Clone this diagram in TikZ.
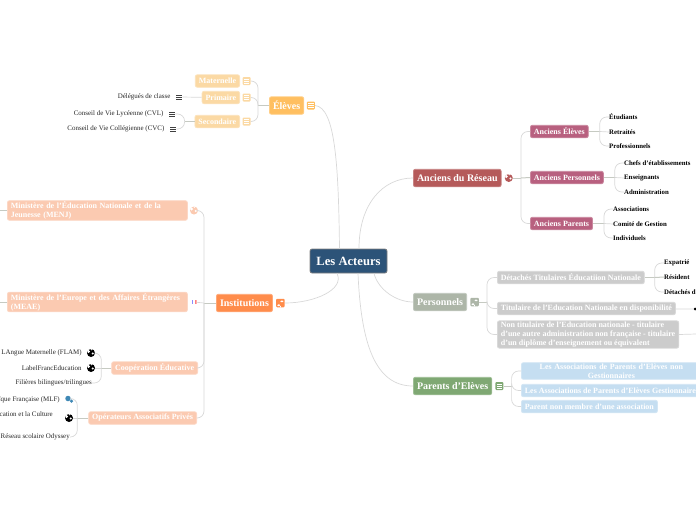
\documentclass[tikz,border=0pt]{standalone}
\usepackage{fontspec}
\setmainfont{Liberation Serif}
\usetikzlibrary{positioning}
\definecolor{rootblue}{HTML}{2C5378}
\definecolor{reseau}{HTML}{B55A5A}
\definecolor{reseaulight}{HTML}{B8607F}
\definecolor{perso}{HTML}{ADB6A8}
\definecolor{persolight}{HTML}{CCCCCC}
\definecolor{parents}{HTML}{7FA873}
\definecolor{parentslight}{HTML}{C5DEF1}
\definecolor{eleves}{HTML}{FFBF60}
\definecolor{eleveslight}{HTML}{FBD9A4}
\definecolor{instit}{HTML}{FF8C4B}
\definecolor{institlight}{HTML}{FBCAB1}
\definecolor{linkgray}{HTML}{D8D8D8}
\definecolor{stubgray}{HTML}{C6CAC2}
\definecolor{cogblue}{HTML}{3F88B5}
\begin{document}
\begin{tikzpicture}[
  x=1pt, y=-1pt,
  box/.style={fill=#1, draw=#1!75!white, line width=.8pt, rounded corners=2pt, text=white, align=left, inner xsep=3.5pt, inner ysep=1pt},
  main/.style={box=#1, font=\fontsize{10}{11}\selectfont\bfseries, minimum height=17.5pt, inner xsep=3.6pt},
  sub/.style={box=#1, font=\fontsize{8}{9}\selectfont\bfseries, minimum height=12.5pt},
  leaf/.style={font=\fontsize{6.8}{8}\selectfont\bfseries, inner sep=0pt},
  leafl/.style={font=\fontsize{6.95}{8}\selectfont, text=black!85, inner sep=0pt},
  link/.style={draw=linkgray, line width=.7pt},
  fork/.style={link, rounded corners=7pt},
  stub/.style={draw=stubgray, line width=1pt},
  menuicon/.style={fill=#1, rounded corners=1pt, minimum size=8pt, inner sep=0pt,
    path picture={\foreach \dy in {-2,0,2} \draw[white, line width=.7pt] ([xshift=-2.6pt, yshift=\dy pt]path picture bounding box.center) -- ++(5.2,0);}},
  listicon/.style={minimum width=6.5pt, minimum height=7pt, inner sep=0pt,
    path picture={\foreach \dy in {-2,0,2} \draw[black!75, line width=.6pt] ([xshift=-2.8pt, yshift=\dy pt]path picture bounding box.center) -- ++(5.6,0);}},
  globeicon/.style 2 args={circle, fill=#1, minimum size=8pt, inner sep=0pt,
    path picture={\fill[#2] ([xshift=-2.5pt, yshift=1.5pt]path picture bounding box.center) circle (1.6pt);
      \fill[#2] ([xshift=1.8pt, yshift=-.5pt]path picture bounding box.center) circle (1.1pt);
      \fill[#2] ([xshift=.5pt, yshift=3.6pt]path picture bounding box.center) circle (1pt);}},
  posticon/.style={fill=#1, rounded corners=1pt, minimum size=8.5pt, inner sep=0pt,
    path picture={\draw[white, line width=.9pt] ([yshift=-3.2pt]path picture bounding box.center) -- ++(0,6.8);
      \fill[white] ([yshift=2.4pt]path picture bounding box.center) -- ++(3,0) -- ++(0,1.6) -- ++(-3,0) -- cycle;
      \fill[white] ([yshift=-1.4pt]path picture bounding box.center) -- ++(-3.2,0) -- ++(0,1.6) -- ++(3.2,0) -- cycle;}},
  flagicon/.style={minimum width=5pt, minimum height=4pt, inner sep=0pt,
    path picture={\fill[blue!45] (path picture bounding box.south west) rectangle ++(1.7,-4);
      \fill[red!50] (path picture bounding box.north east) rectangle ++(-1.7,4);}},
  cogicon/.style={circle, fill=cogblue, inner sep=0pt}
]
\useasboundingbox (0,0) rectangle (696,520);

\node[fill=rootblue, draw=black!50, line width=.7pt, rounded corners=2pt, text=white, font=\fontsize{12.6}{14}\selectfont\bfseries, minimum width=77pt, minimum height=24pt, inner sep=1pt] (root) at (348.5,261) {Les Acteurs};

\node[main=reseau, anchor=west] (reseaum) at (413,178) {Anciens du Réseau};
\node[globeicon={reseau}{white}, right=3pt of reseaum] (icReseau) {};
\node[sub=reseaulight, anchor=west] (ancEl) at (530,131.5) {Anciens Élèves};
\node[sub=reseaulight, anchor=west] (ancPe) at (530,177.5) {Anciens Personnels};
\node[sub=reseaulight, anchor=west] (ancPa) at (530,223.5) {Anciens Parents};
\node[leaf, anchor=west] (etu) at (609,117) {Étudiants};
\node[leaf, anchor=west] (ret) at (609,132) {Retraités};
\node[leaf, anchor=west] (pro) at (609,146) {Professionnels};
\node[leaf, anchor=west] (chefs) at (624,163) {Chefs d'établissements};
\node[leaf, anchor=west] (ens) at (624,178) {Enseignants};
\node[leaf, anchor=west] (adm) at (624,192) {Administration};
\node[leaf, anchor=west] (asso) at (613,209) {Associations};
\node[leaf, anchor=west] (comite) at (613,224) {Comité de Gestion};
\node[leaf, anchor=west] (indiv) at (613,238) {Individuels};

\node[main=perso, anchor=west] (perso) at (413,302) {Personnels};
\node[posticon=perso, right=3pt of perso] (icPerso) {};
\node[sub=persolight, anchor=west] (detach) at (497,277.5) {Détachés Titulaires Éducatiion Nationale};
\node[sub=persolight, anchor=west] (titul) at (497,308.5) {Titulaire de l'Education Nationale en disponibilité};
\node[sub=persolight, anchor=west] (nontit) at (497,334.5) {Non titulaire de l'Education nationale - titulaire\\d'une autre administration non française - titulaire\\d'un diplôme d'enseignement ou équivalent};
\node[leaf, anchor=west] (expat) at (664,263) {Expatrié};
\node[leaf, anchor=west] (resid) at (664,277) {Résident};
\node[leaf, anchor=west] (detd) at (664,292) {Détachés d};
\node[circle, fill=black, minimum size=3pt, inner sep=0pt] (dotTit) at (695,309) {};
\coordinate (offNon) at (696,334);

\node[main=parents, anchor=west] (parent) at (413,386) {Parents d'Elèves};
\node[menuicon=parents, right=3pt of parent] (icParent) {};
\node[sub=parentslight, anchor=west, align=center, text width=173pt] (apeNon) at (521,371) {Les Associations de Parents d'Elèves non\\Gestionnaires};
\node[sub=parentslight, anchor=west] (apeGes) at (521,390.5) {Les Associations de Parents d'Elèves Gestionnaires};
\node[sub=parentslight, anchor=west] (apeMem) at (521,406.5) {Parent non membre d'une association};

\node[main=eleves, anchor=west] (eleve) at (269,105.5) {Élèves};
\node[menuicon=eleves, right=2.5pt of eleve] (icEleve) {};
\node[sub=eleveslight, anchor=east] (mater) at (240,81) {Maternelle};
\node[sub=eleveslight, anchor=east] (prim) at (240,97.5) {Primaire};
\node[sub=eleveslight, anchor=east] (second) at (240,121.5) {Secondaire};
\node[menuicon=eleveslight, right=2.5pt of mater] (icMater) {};
\node[menuicon=eleveslight, right=2.5pt of prim] (icPrim) {};
\node[menuicon=eleveslight, right=2.5pt of second] (icSecond) {};
\node[listicon] (icDel) at (179,97) {};
\node[listicon] (icCvl) at (172,114) {};
\node[listicon] (icCvc) at (173,129) {};
\node[leafl, left=5pt of icDel] (deleg) {Délégués de classe};
\node[leafl, left=5pt of icCvl] (cvl) {Conseil de Vie Lycéenne (CVL)};
\node[leafl, left=5pt of icCvc] (cvc) {Conseil de Vie Collégienne (CVC)};

\node[main=instit, anchor=west] (inst) at (216,303) {Institutions};
\node[posticon=instit, right=3pt of inst] (icInst) {};
\node[sub=institlight, anchor=west, text width=173pt] (menj) at (7,210.5) {Ministère de l'Éducation Nationale et de la\\Jeunesse (MENJ)};
\node[sub=institlight, anchor=west, text width=173pt] (meae) at (7,302) {Ministère de l'Europe et des Affaires Étrangères\\(MEAE)};
\node[globeicon={institlight}{white}, right=2pt of menj] (icMenj) {};
\node[flagicon, right=3.5pt of meae] (icMeae) {};
\node[sub=institlight, anchor=east] (coop) at (198,368) {Coopération Éducative};
\node[sub=institlight, anchor=east] (oper) at (197,418) {Opérateurs Associatifs Privés};
\node[globeicon={black}{white}] (icFlam) at (91,353) {};
\node[globeicon={black}{white}] (icLabel) at (91,368) {};
\node[globeicon={black}{white}] (icCult) at (69,418) {};
\node[cogicon, minimum size=5.5pt] (icCog) at (68,398.5) {};
\node[cogicon, minimum size=3.5pt] (icCogb) at (71.5,401) {};
\node[leafl, left=5pt of icFlam] (flam) {LAngue Maternelle (FLAM)};
\node[leafl, left=5pt of icLabel] (label) {LabelFrancEducation};
\node[leafl, anchor=east] (filie) at (92,383) {Filières bilingues/trilingues};
\node[leafl, anchor=east] (mlf) at (60,400) {ïque Française (MLF)};
\node[leafl, anchor=east] (cult) at (53,414) {cation et la Culture};
\node[leafl, anchor=east] (odys) at (70,437) {Réseau scolaire Odyssey};
\coordinate (offMenj) at (0,210.5);
\coordinate (offMeae) at (0,302);

\coordinate[right=8pt of icReseau] (hubReseau);
\coordinate[right=8pt of icPerso] (hubPerso);
\coordinate[right=8pt of icParent] (hubParent);
\coordinate[left=11pt of eleve] (hubEleve);
\coordinate[left=12pt of inst] (hubInst);
\coordinate[right=11pt of ancEl] (hubAncEl);
\coordinate[right=11pt of ancPe] (hubAncPe);
\coordinate[right=11pt of ancPa] (hubAncPa);
\coordinate[right=10pt of detach] (hubDetach);
\coordinate[left=10pt of second] (hubSecond);
\coordinate[left=10pt of coop] (hubCoop);
\coordinate[left=11pt of oper] (hubOper);

\draw[link] (icEleve.east) .. controls +(20,2) and +(-1,-85) .. ([xshift=-9pt]root.north);
\draw[link] (icInst.east) .. controls +(30,0) and +(8,16) .. ([xshift=-11.5pt]root.south);
\draw[link] ([xshift=10.5pt]root.north) .. controls +(0,-45) and +(-30,0) .. (reseaum.west);
\draw[link] ([xshift=25.5pt]root.south) .. controls +(4,16) and +(-17,0) .. (perso.west);
\draw[link] ([xshift=9.5pt]root.south) .. controls +(3,70) and +(-38,0) .. (parent.west);

\draw[stub] (icReseau) -- (hubReseau);
\draw[fork] (hubReseau) |- (ancEl.west);
\draw[stub] (hubReseau) -- (ancPe.west);
\draw[fork] (hubReseau) |- (ancPa.west);
\draw[stub] (ancEl) -- (hubAncEl);
\draw[fork] (hubAncEl) |- (etu.west);
\draw[link] (hubAncEl) -- (ret.west);
\draw[fork] (hubAncEl) |- (pro.west);
\draw[stub] (ancPe) -- (hubAncPe);
\draw[fork] (hubAncPe) |- (chefs.west);
\draw[link] (hubAncPe) -- (ens.west);
\draw[fork] (hubAncPe) |- (adm.west);
\draw[stub] (ancPa) -- (hubAncPa);
\draw[fork] (hubAncPa) |- (asso.west);
\draw[link] (hubAncPa) -- (comite.west);
\draw[fork] (hubAncPa) |- (indiv.west);

\draw[stub] (icPerso) -- (hubPerso);
\draw[fork] (hubPerso) |- (detach.west);
\draw[fork] (hubPerso) |- (titul.west);
\draw[fork] (hubPerso) |- (nontit.west);
\draw[stub] (detach) -- (hubDetach);
\draw[fork] (hubDetach) |- (expat.west);
\draw[stub] (hubDetach) -- (resid.west);
\draw[fork] (hubDetach) |- (detd.west);
\draw[link] (titul) -- (dotTit);
\draw[link] (nontit.east) -- (offNon);

\draw[stub] (icParent) -- (hubParent);
\draw[fork] (hubParent) |- (apeNon.west);
\draw[fork] (hubParent) |- (apeGes.west);
\draw[fork] (hubParent) |- (apeMem.west);

\draw[stub] (eleve) -- (hubEleve);
\draw[fork] (hubEleve) |- (icMater.east);
\draw[fork] (hubEleve) |- (icPrim.east);
\draw[fork] (hubEleve) |- (icSecond.east);
\draw[link] (prim) -- (icDel);
\draw[stub] (second) -- (hubSecond);
\draw[fork] (hubSecond) |- (icCvl.east);
\draw[fork] (hubSecond) |- (icCvc.east);

\draw[stub] (inst) -- (hubInst);
\draw[link] (icMeae) -- (hubInst);
\draw[fork] (hubInst) |- (icMenj.east);
\draw[fork] (hubInst) |- (coop.east);
\draw[fork] (hubInst) |- (oper.east);
\draw[stub] (offMenj) -- (menj);
\draw[stub] (offMeae) -- (meae);
\draw[stub] (coop) -- (hubCoop);
\draw[link] (icLabel) -- (hubCoop);
\draw[fork] (hubCoop) |- (icFlam.east);
\draw[fork] (hubCoop) |- (filie.east);
\draw[stub] (oper) -- (hubOper);
\draw[link] (icCult) -- (hubOper);
\draw[fork] (hubOper) |- (icCog.east);
\draw[fork] (hubOper) |- (odys.east);
\end{tikzpicture}
\end{document}
